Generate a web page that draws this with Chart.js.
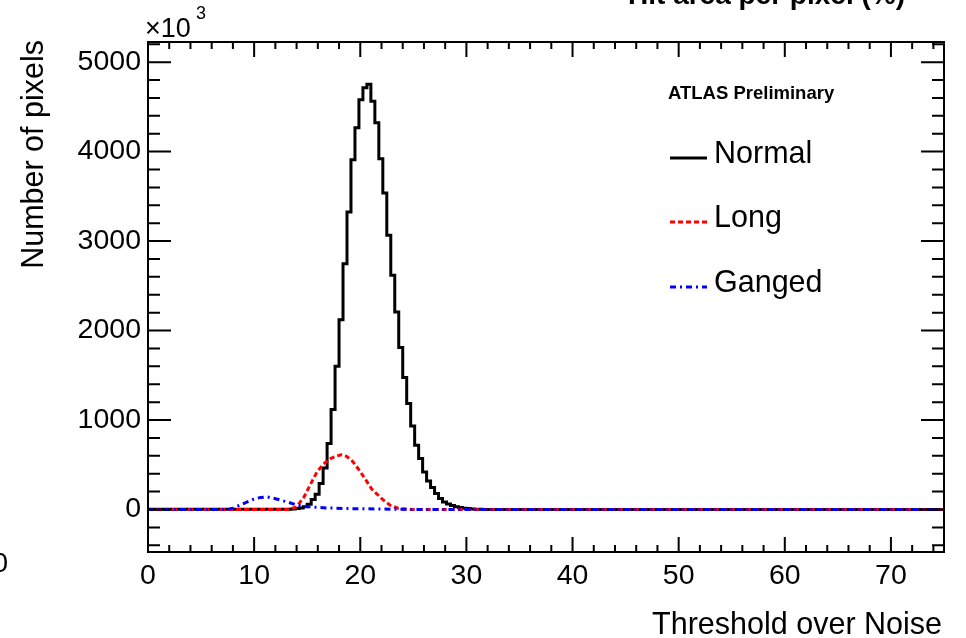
<!DOCTYPE html>
<html>
<head>
<meta charset="utf-8">
<script src="https://cdn.jsdelivr.net/npm/chart.js@4"></script>
<style>
  html, body { margin: 0; padding: 0; background: #fff; }
  #wrap { width: 966px; height: 638px; }
</style>
</head>
<body>
<div id="wrap"><canvas id="tonChart" width="966" height="638"></canvas></div>
<script>
// histogram binning: 200 bins over 0-75
const binWidth = 0.375;
const normalFirstBin = 36;
// Normal pixels, counts per bin (x10^3), bins 36..85
const normalCounts = [
  3, 5, 10, 18, 32, 59, 112, 171, 290, 465,
  737, 1117, 1601, 2122, 2748, 3324, 3910, 4267, 4580, 4714,
  4752, 4562, 4323, 3921, 3537, 3064, 2617, 2207, 1810, 1475,
  1184, 934, 718, 570, 420, 319, 246, 179, 123, 85,
  62, 45, 32, 22, 15, 10, 6, 4, 2, 1
];

// Long pixels
const longX = [0, 13.2, 14.0, 14.7, 15.3, 15.9, 16.5, 17.1, 17.7, 18.2, 18.7, 19.3, 19.9, 20.5, 21.1, 21.6, 22.0, 22.8, 23.6, 24.5, 25.0, 75];
const longY = [0, 0, 30, 140, 280, 415, 505, 565, 595, 612, 595, 535, 440, 335, 225, 170, 123, 48, 12, 2, 0, 0];

// Ganged pixels
const gangedX = [0, 7.5, 8.0, 9.0, 9.9, 10.6, 11.2, 12.1, 13.1, 14.0, 15.2, 16.8, 19.0, 22.0, 26.0, 75];
const gangedY = [0, 0, 15, 67, 112, 135, 141, 118, 85, 50, 30, 18, 10, 5, 0, 0];

const xTicks = [0, 10, 20, 30, 40, 50, 60, 70];
const yTicks = [0, 1000, 2000, 3000, 4000, 5000];
const xMinorStep = 2;
const yMinorStep = 200;

const FONT = "'Liberation Sans', Arial, Helvetica, sans-serif";

function histPoints(first, counts) {
  const pts = [{ x: 0, y: 0 }];
  counts.forEach((v, i) => pts.push({ x: (first + i) * binWidth, y: v }));
  pts.push({ x: (first + counts.length) * binWidth, y: 0 });
  pts.push({ x: 75, y: 0 });
  return pts;
}

function zipPoints(xs, ys) {
  return xs.map((x, i) => ({ x: x, y: ys[i] }));
}

// frame, inward ticks on all four sides, texts and legend (ROOT style)
const rootFrame = {
  id: "rootFrame",
  afterDraw(chart) {
    const ctx = chart.ctx;
    const a = chart.chartArea;
    const xs = chart.scales.x;
    const ys = chart.scales.y;
    ctx.save();
    ctx.strokeStyle = "#000";
    ctx.lineWidth = 2;
    ctx.setLineDash([]);

    // x ticks
    for (let v = xs.min; v <= xs.max + 1e-6; v += xMinorStep) {
      const px = xs.getPixelForValue(v);
      const len = xTicks.includes(v) ? 15 : 7;
      ctx.beginPath();
      ctx.moveTo(px, a.bottom); ctx.lineTo(px, a.bottom - len);
      ctx.moveTo(px, a.top); ctx.lineTo(px, a.top + len);
      ctx.stroke();
    }
    // y ticks
    for (let v = -400; v <= ys.max; v += yMinorStep) {
      const py = ys.getPixelForValue(v);
      const len = yTicks.includes(v) ? 23 : 12;
      ctx.beginPath();
      ctx.moveTo(a.left, py); ctx.lineTo(a.left + len, py);
      ctx.moveTo(a.right, py); ctx.lineTo(a.right - len, py);
      ctx.stroke();
    }
    ctx.strokeRect(a.left, a.top, a.right - a.left, a.bottom - a.top);

    ctx.fillStyle = "#000";
    // multiplier
    ctx.textAlign = "left";
    ctx.textBaseline = "alphabetic";
    ctx.font = "27px " + FONT;
    ctx.fillText("\u00d710", 145, 37);
    ctx.font = "18px " + FONT;
    ctx.fillText("3", 196, 19);

    // axis titles
    ctx.font = "30.5px " + FONT;
    ctx.textAlign = "right";
    ctx.fillText("Threshold over Noise", 942, 634);
    ctx.save();
    ctx.translate(43, 40);
    ctx.rotate(-Math.PI / 2);
    ctx.fillText("Number of pixels", 0, 0);
    ctx.restore();

    // pieces of neighbouring plots, cut by the frame of the picture
    ctx.font = "bold 28px " + FONT;
    ctx.textAlign = "right";
    ctx.fillText("Hit area per pixel (%)", 905, 4);
    ctx.font = "28px " + FONT;
    ctx.fillText("0", 8, 572);

    // ATLAS label and legend
    ctx.textAlign = "left";
    ctx.font = "bold 18.5px " + FONT;
    ctx.fillText("ATLAS Preliminary", 668, 99);
    const rows = [163, 227, 292];
    ctx.font = "30.5px " + FONT;
    chart.data.datasets.forEach((ds, i) => {
      const y = rows[i];
      ctx.save();
      ctx.strokeStyle = ds.borderColor;
      ctx.lineWidth = ds.borderWidth;
      ctx.setLineDash(ds.borderDash || []);
      ctx.beginPath();
      ctx.moveTo(670, y - 5);
      ctx.lineTo(707, y - 5);
      ctx.stroke();
      ctx.restore();
      ctx.fillText(ds.label, 714, y);
    });
    ctx.restore();
  }
};

new Chart(document.getElementById("tonChart"), {
  type: "line",
  data: {
    datasets: [
      {
        label: "Normal",
        data: histPoints(normalFirstBin, normalCounts),
        borderColor: "#000000",
        borderWidth: 3,
        stepped: "after",
        pointRadius: 0,
        fill: false,
        order: 3
      },
      {
        label: "Long",
        data: zipPoints(longX, longY),
        borderColor: "#ff0000",
        borderWidth: 3,
        borderDash: [5, 3],
        pointRadius: 0,
        fill: false,
        order: 2
      },
      {
        label: "Ganged",
        data: zipPoints(gangedX, gangedY),
        borderColor: "#0000ff",
        borderWidth: 3,
        borderDash: [6, 4, 2, 4],
        pointRadius: 0,
        fill: false,
        order: 1
      }
    ]
  },
  options: {
    responsive: false,
    animation: false,
    layout: { padding: { top: 42, right: 22, left: 0, bottom: 0 } },
    plugins: {
      legend: { display: false },
      tooltip: { enabled: false }
    },
    scales: {
      x: {
        type: "linear",
        min: 0,
        max: 75,
        grid: { display: false, drawTicks: false },
        border: { display: false },
        afterBuildTicks: scale => { scale.ticks = xTicks.map(v => ({ value: v })); },
        afterFit: scale => { scale.height = 86; },
        ticks: {
          color: "#000",
          padding: 7,
          maxRotation: 0,
          font: { family: FONT, size: 28.5 },
          callback: v => String(v)
        }
      },
      y: {
        type: "linear",
        min: -475,
        max: 5225,
        grid: { display: false, drawTicks: false },
        border: { display: false },
        afterBuildTicks: scale => { scale.ticks = yTicks.map(v => ({ value: v })); },
        afterFit: scale => { scale.width = 148; },
        ticks: {
          color: "#000",
          padding: 7,
          font: { family: FONT, size: 28.5 },
          callback: v => String(v)
        }
      }
    }
  },
  plugins: [rootFrame]
});
</script>
</body>
</html>
